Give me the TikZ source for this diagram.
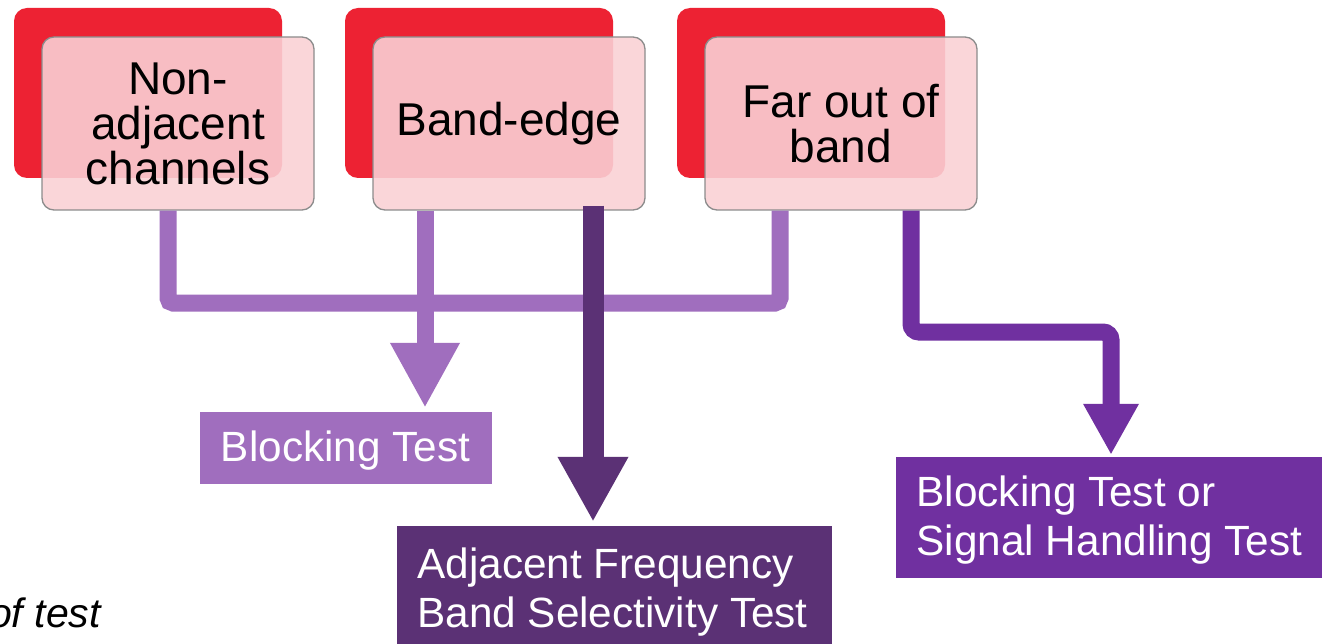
\documentclass[tikz,border=0pt]{standalone}
\usepackage{fontspec}
\setmainfont{Liberation Sans}
\usetikzlibrary{arrows.meta,calc}
\definecolor{redc}{RGB}{237,34,51}
\definecolor{pinkc}{RGB}{250,209,213}
\definecolor{edgec}{RGB}{140,140,140}
\definecolor{lpur}{RGB}{160,110,190}
\definecolor{dpur}{RGB}{91,49,117}
\definecolor{mpur}{RGB}{112,48,160}
\newcommand{\outtext}[2][8pt]{\raisebox{-4pt}[\height][\depth]{\begin{tabular}{@{}l@{}}#2\end{tabular}}\hspace*{#1}}
\begin{document}
\begin{tikzpicture}[x=1pt,y=-1pt,
  redbox/.style={fill=redc, rounded corners=13pt, minimum width=268pt, minimum height=170pt, inner sep=0pt},
  pinkbox/.style={fill=pinkc, fill opacity=0.89, text opacity=1, draw=edgec, draw opacity=1, line width=1.3pt,
    rounded corners=12pt, minimum width=272pt, minimum height=173pt, inner sep=0pt, align=center,
    font=\fontsize{46}{45}\selectfont},
  outbox/.style={inner sep=0pt, text=white, font=\fontsize{42.3}{49}\selectfont},
  lline/.style={draw=lpur, line width=17pt},
  larrow/.style={lline, -{Triangle[width=65pt,length=65pt]}},
  darrow/.style={draw=dpur, line width=21pt, -{Triangle[width=66pt,length=65pt]}},
  marrow/.style={draw=mpur, line width=17pt, -{Triangle[width=52pt,length=51pt]}}
]
\clip (0,0) rectangle (1322,644);
\fill[white] (0,0) rectangle (1322,644);

% red back boxes
\node[redbox] (r1) at (148,93) {};
\node[redbox] (r2) at (479,93) {};
\node[redbox] (r3) at (811,93) {};

% pink front boxes
\node[pinkbox] (p1) at (178,123.5) {Non-\\adjacent\\channels};
\node[pinkbox] (p2) at (509,123.5) {Band-edge};
\node[pinkbox] (p3) at (841,123.5) {Far out of\\band};

% output boxes
\node[outbox, fill=lpur, minimum width=292pt, minimum height=72pt] (b1) at (346,448) {\outtext[1pt]{Blocking Test}};
\node[outbox, fill=dpur, minimum width=435pt, minimum height=126pt] (b2) at (614.5,589) {\outtext[4pt]{Adjacent Frequency\\Band Selectivity Test}};
\node[outbox, fill=mpur, minimum width=428pt, minimum height=121pt] (b3) at (1110,517.5) {\outtext[1pt]{Blocking Test or\\Signal Handling Test}};

% caption fragment
\node[anchor=base east, inner sep=0pt, font=\fontsize{41}{48}\selectfont\itshape] (ot) at (101,627) {of test};

% light purple bus to Blocking Test
\coordinate (j) at (425,303);
\coordinate (a1) at ([xshift=-10pt]p1.south);
\coordinate (a2) at ([xshift=-84pt]p2.south);
\coordinate (a3) at ([xshift=-61pt]p3.south);
\draw[lline, rounded corners=5pt] (a1) |- (j) -| (a3);
\draw[larrow] (a2) -- ($(a2 |- b1.north)+(0,-4)$);

% dark purple arrow
\coordinate (d2) at ([xshift=84pt,yshift=5pt]p2.south);
\draw[darrow] (d2) -- ($(d2 |- b2.north)+(0,-4)$);

% purple arrow
\coordinate (m3) at ([xshift=70pt]p3.south);
\coordinate (k) at (1111,332);
\draw[marrow, rounded corners=8pt] (m3) |- (k) -- ($(k |- b3.north)+(0,-2)$);
\end{tikzpicture}
\end{document}
